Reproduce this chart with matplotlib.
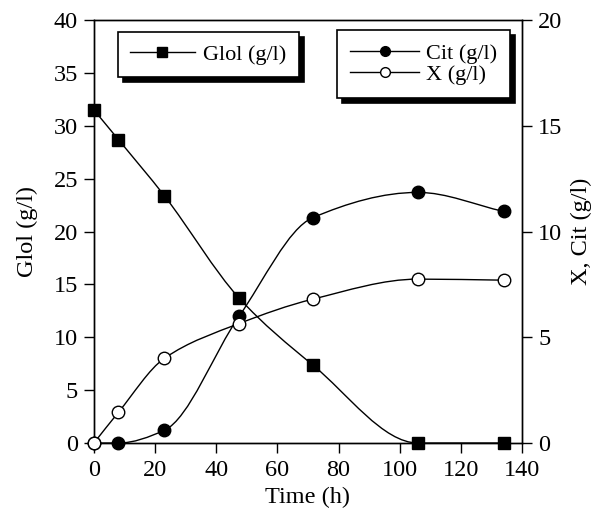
import numpy as np
import matplotlib
matplotlib.use("Agg")
import matplotlib.pyplot as plt
from matplotlib.path import Path
from matplotlib.patches import PathPatch
from matplotlib.lines import Line2D

plt.rcParams['font.family'] = ['Liberation Serif', 'DejaVu Serif']
plt.rcParams['font.size'] = 17.5

# data
time_h = [0, 8, 23, 47.5, 71.5, 106, 134]
glol = [31.5, 28.7, 23.4, 13.7, 7.4, 0.0, 0.0]      # left axis
cit = [0.0, 0.0, 0.6, 6.0, 10.65, 11.85, 10.95]      # right axis
biomass = [0.0, 1.45, 4.0, 5.65, 6.8, 7.75, 7.7]     # right axis


def smooth_path(x, y):
    # monotone cubic (Fritsch-Carlson slopes) drawn as bezier segments
    x = np.asarray(x, float)
    y = np.asarray(y, float)
    h = np.diff(x)
    d = np.diff(y) / h
    m = np.zeros_like(y)
    m[0], m[-1] = d[0], d[-1]
    for i in range(1, len(x) - 1):
        if d[i - 1] * d[i] <= 0:
            m[i] = 0.0
        else:
            w1 = 2 * h[i] + h[i - 1]
            w2 = h[i] + 2 * h[i - 1]
            m[i] = (w1 + w2) / (w1 / d[i - 1] + w2 / d[i])
    verts = [(x[0], y[0])]
    codes = [Path.MOVETO]
    for i in range(len(x) - 1):
        verts += [(x[i] + h[i] / 3, y[i] + m[i] * h[i] / 3),
                  (x[i + 1] - h[i] / 3, y[i + 1] - m[i + 1] * h[i] / 3),
                  (x[i + 1], y[i + 1])]
        codes += [Path.CURVE4] * 3
    return Path(verts, codes)


fig = plt.figure(figsize=(5.98, 5.2), dpi=100)
ax = fig.add_axes([0.157, 0.148, 0.716, 0.8135])
ax2 = ax.twinx()

for a, xs, ys in [(ax, time_h, glol), (ax2, time_h, cit), (ax2, time_h, biomass)]:
    a.add_patch(PathPatch(smooth_path(xs, ys), fill=False, edgecolor='black',
                          linewidth=1.0, transform=a.transData, clip_on=False))

ax.plot(time_h, glol, linestyle='none', marker='s', markersize=8.5,
        color='black', clip_on=False, zorder=5)
ax2.plot(time_h, cit, linestyle='none', marker='o', markersize=9,
         color='black', clip_on=False, zorder=5)
ax2.plot(time_h, biomass, linestyle='none', marker='o', markersize=9,
         markerfacecolor='white', markeredgecolor='black', markeredgewidth=1.0,
         clip_on=False, zorder=5)

ax.set_xlim(0, 140)
ax.set_ylim(0, 40)
ax2.set_ylim(0, 20)
ax.set_xticks(range(0, 141, 20))
ax.set_yticks(range(0, 41, 5))
ax2.set_yticks(range(0, 21, 5))

for a in (ax, ax2):
    a.tick_params(direction='out', length=7.5, width=1, pad=4)
    for s in a.spines.values():
        s.set_linewidth(1.0)
ax.tick_params(axis='x', pad=5)

ax.set_xlabel('Time (h)', labelpad=4)
ax.set_ylabel('Glol (g/l)', labelpad=11)
ax2.set_ylabel('X, Cit (g/l)', labelpad=6)

shadow = {'color': 'black', 'alpha': 1, 'ox': 3.5, 'oy': -3.5}
h_glol = Line2D([], [], color='black', lw=1, marker='s', markersize=7)
leg1 = ax.legend([h_glol], ['Glol (g/l)'], loc='upper left',
                 bbox_to_anchor=(0.056, 0.972), fancybox=False, shadow=shadow,
                 edgecolor='black', framealpha=1, handlelength=2.9,
                 handletextpad=0.4, borderpad=0.55, borderaxespad=0, fontsize=16)
leg1.get_frame().set_linewidth(1.2)

h_cit = Line2D([], [], color='black', lw=1, marker='o', markersize=7)
h_x = Line2D([], [], color='black', lw=1, marker='o', markersize=7,
             markerfacecolor='white')
leg2 = ax2.legend([h_cit, h_x], ['Cit (g/l)', 'X (g/l)'], loc='upper right',
                  bbox_to_anchor=(0.973, 0.976), fancybox=False, shadow=shadow,
                  edgecolor='black', framealpha=1, handlelength=3.1,
                  handletextpad=0.3, borderpad=0.6, labelspacing=0.0,
                  borderaxespad=0, fontsize=16)
leg2.get_frame().set_linewidth(1.2)

fig.savefig('out.png', dpi=100)
